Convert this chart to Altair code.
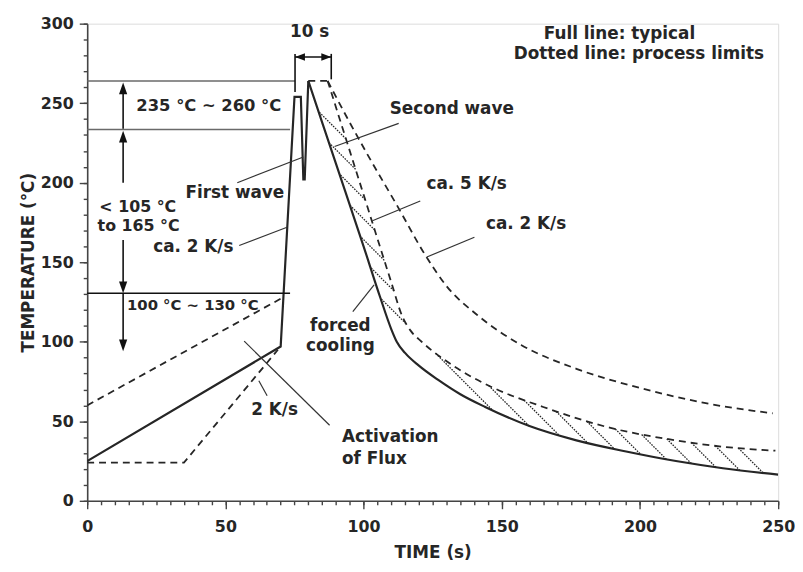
import altair as alt
import pandas as pd
import numpy as np

INK = "#262626"
GRAY = "#6a6a6a"
FONT = "DejaVu Sans"

# ---------------- data ----------------
# Typical profile (full line)
solid_heat_t = [0, 70, 75, 77.3, 78.2, 78.7, 80]
solid_heat_T = [25, 97, 254, 254, 202, 202, 264]
solid_cool_t = [80, 90, 100, 106, 110, 112, 115, 120, 127, 135, 144, 160, 177, 195, 213, 230, 250]
solid_cool_T = [264, 212, 160, 128, 108, 100, 93, 85, 76, 67, 59, 47, 38, 31, 25, 20.5, 16.5]

# Process limits (dotted lines)
pre_upper_t = [0, 71]
pre_upper_T = [60, 128]
pre_lower_t = [0, 35, 69]
pre_lower_T = [24, 24, 95]
peak_t = [80, 87]
peak_T = [264, 264]
cool_fast_t = [87, 100, 110, 114, 117, 121, 129, 138, 147, 165, 189, 213, 230, 249]
cool_fast_T = [264, 192.5, 137.5, 116, 107, 100, 89, 79, 71, 59, 46, 38, 34, 31.5]
cool_slow_t = [87, 94, 101, 112, 122.5, 130, 141, 157, 177, 201, 225, 248]
cool_slow_T = [264, 241, 219, 186, 154, 135, 117, 98, 83, 70.5, 61, 55]

# Reference levels
ref_x = [0, 0, 0]
ref_x2 = [75.2, 73.4, 73.4]
ref_T = [264, 233.5, 130.5]
ref_kind = ["gray", "gray", "black"]

# Axis ticks
x_major = [0, 50, 100, 150, 200, 250]
x_minor = list(range(0, 251, 5))
y_major = [0, 50, 100, 150, 200, 250, 300]
y_minor = list(range(0, 301, 10))

# Annotation texts
label_text = ["10 s", "Full line: typical", "Dotted line: process limits",
              "235 °C ~ 260 °C", "Second wave", "First wave", "< 105 °C", "to 165 °C",
              "ca. 2 K/s", "100 °C ~ 130 °C", "ca. 5 K/s", "ca. 2 K/s",
              "forced", "cooling", "2 K/s"]
label_x = [80.5, 192.6, 199.6, 44.0, 131.9, 53.4, 18.3, 18.6, 38.4, 38.2, 137.3, 158.8,
           91.6, 91.6, 67.8]
label_y = [295, 293.7, 280.8, 248, 246.1, 193.2, 185, 173, 159.5, 122.9, 199, 174.2,
           109.7, 97.3, 56.8]
label_size = [17, 17, 17, 16.5, 17, 17, 16, 16, 17, 15, 17, 17, 17, 17, 17]
left_text = ["Activation", "of Flux"]
left_x = [92.2, 92.2]
left_y = [40, 26]

# Leader lines
lead_x = [54.3, 55.0, 112.7, 120.5, 140.1, 96.1, 65.1, 87.7]
lead_y = [200, 160.5, 237.3, 188.5, 165.7, 119, 66.1, 47.5]
lead_x2 = [78.2, 72.3, 89.5, 103.2, 122.9, 103.8, 62.1, 56.8]
lead_y2 = [216.2, 172, 222.8, 176.1, 153.3, 135.7, 75.5, 100.4]

# Dimension arrows (shafts) and heads
shaft_x = [13, 13, 13, 13, 75.2, 88.3, 75.2]
shaft_y = [234, 200, 164, 130.5, 257, 265, 279]
shaft_x2 = [13, 13, 13, 13, 75.2, 88.3, 88.3]
shaft_y2 = [257, 228, 135, 99, 281, 281, 279]
head_x = [13, 13, 13, 13, 77.0, 86.5]
head_y = [259.3, 229.0, 134.2, 97.7, 279, 279]
head_dir = ["up", "up", "down", "down", "left", "right"]
head_size = [140, 140, 140, 140, 100, 100]

# ---------------- chart ----------------
W, H = 698, 482
xs = alt.Scale(domain=[0, 250], nice=False, zero=False)
ys = alt.Scale(domain=[0, 300], nice=False, zero=False)

lab = dict(labelFont=FONT, labelFontWeight="bold", labelFontSize=16, labelColor=INK,
           titleFont=FONT, titleFontWeight="bold", titleFontSize=17, titleColor=INK,
           domainColor="#444", domainWidth=1.6, tickColor="#444", tickWidth=1.4,
           grid=False, labelOverlap=False, labelFlush=False)

x_major_axis = alt.Axis(orient="bottom", title="TIME (s)", values=x_major, tickSize=8,
                        labelPadding=10, titlePadding=10, **lab)
y_major_axis = alt.Axis(orient="left", title="TEMPERATURE (°C)", values=y_major, tickSize=8,
                        labelPadding=6, titlePadding=3, **lab)
x_minor_axis = alt.Axis(orient="bottom", title=None, values=x_minor, tickSize=4, labels=False,
                        domain=False, grid=False, tickColor="#444", tickWidth=1.4)
y_minor_axis = alt.Axis(orient="left", title=None, values=y_minor, tickSize=4, labels=False,
                        domain=False, grid=False, tickColor="#444", tickWidth=1.4)


def line(t, T, dash=None, width=2.2, interp="linear", xa=None, ya=None):
    df = pd.DataFrame({"t": t, "T": T, "o": range(len(t))})
    kw = dict(color=INK, strokeWidth=width, interpolate=interp, clip=True)
    if dash:
        kw["strokeDash"] = dash
    return alt.Chart(df).mark_line(**kw).encode(
        x=alt.X("t:Q", scale=xs, axis=xa),
        y=alt.Y("T:Q", scale=ys, axis=ya),
        order="o:Q",
    )


DASH = [7, 5]
layers = [
    line(solid_heat_t, solid_heat_T, xa=x_major_axis, ya=y_major_axis),
    line(solid_cool_t, solid_cool_T, interp="monotone", xa=x_minor_axis, ya=y_minor_axis),
    line(pre_upper_t, pre_upper_T, dash=DASH, width=1.8),
    line(pre_lower_t, pre_lower_T, dash=DASH, width=1.8),
    line(peak_t, peak_T, dash=DASH, width=1.8),
    line(cool_fast_t, cool_fast_T, dash=DASH, width=1.8, interp="monotone"),
    line(cool_slow_t, cool_slow_T, dash=DASH, width=1.8, interp="monotone"),
]

# ---- hatching between the typical curve and the fast-cooling limit (45° strokes) ----
KX, KY = W / 250, H / 300


def monotone_dense(t, T, step=0.05):
    """Evaluate the same monotone (Steffen) cubic that Vega draws."""
    x = np.asarray(t, float); y = np.asarray(T, float)
    h = np.diff(x); s = np.diff(y) / h
    n = len(x)
    m = np.zeros(n)
    for i in range(1, n - 1):
        p = (s[i - 1] * h[i] + s[i] * h[i - 1]) / (h[i - 1] + h[i])
        m[i] = (np.sign(s[i - 1]) + np.sign(s[i])) * min(abs(s[i - 1]), abs(s[i]), 0.5 * abs(p))
    m[0] = (3 * s[0] - m[1]) / 2
    m[-1] = (3 * s[-1] - m[-2]) / 2
    xx = np.arange(x[0], x[-1], step)
    idx = np.clip(np.searchsorted(x, xx, side="right") - 1, 0, n - 2)
    tt = (xx - x[idx]) / h[idx]
    h00 = 2 * tt**3 - 3 * tt**2 + 1; h10 = tt**3 - 2 * tt**2 + tt
    h01 = -2 * tt**3 + 3 * tt**2; h11 = tt**3 - tt**2
    yy = h00 * y[idx] + h10 * h[idx] * m[idx] + h01 * y[idx + 1] + h11 * h[idx] * m[idx + 1]
    return xx, yy


def branches(t, T):
    xx, yy = monotone_dense(t, T)
    u, v = xx * KX, yy * KY
    k = int(np.argmin(u + v))
    return (u[:k + 1], v[:k + 1]), (u[k:], v[k:])


def cross(branch, c):
    u, v = branch
    s = u + v - c
    for i in range(len(s) - 1):
        if s[i] == 0 or s[i] * s[i + 1] < 0:
            f = s[i] / (s[i] - s[i + 1]) if s[i] != s[i + 1] else 0
            return u[i] + f * (u[i + 1] - u[i]), v[i] + f * (v[i + 1] - v[i])
    return None


sol_b = branches(solid_cool_t, solid_cool_T)
fast_b = branches(cool_fast_t, cool_fast_T)
hx, hy, hx2, hy2 = [], [], [], []
for c in np.arange(480, 760, 21):
    for b in (0, 1):
        p = cross(fast_b[b], c)
        q = cross(sol_b[b], c)
        if p is None or q is None:
            continue
        hx.append(p[0] / KX); hy.append(p[1] / KY); hx2.append(q[0] / KX); hy2.append(q[1] / KY)

hatch = pd.DataFrame({"x": hx, "y": hy, "x2": hx2, "y2": hy2})
layers.append(alt.Chart(hatch).mark_rule(color=INK, strokeWidth=1.3, strokeDash=[1.6, 1.2]).encode(
    x=alt.X("x:Q", scale=xs, axis=None), y=alt.Y("y:Q", scale=ys, axis=None), x2="x2:Q", y2="y2:Q"))

# reference lines
refs = pd.DataFrame({"x": ref_x, "x2": ref_x2, "y": ref_T, "k": ref_kind})
layers.append(alt.Chart(refs).mark_rule(strokeWidth=1.6).encode(
    x=alt.X("x:Q", scale=xs, axis=None), x2="x2:Q", y=alt.Y("y:Q", scale=ys, axis=None),
    color=alt.Color("k:N", scale=alt.Scale(domain=["gray", "black"], range=[GRAY, "#111"]), legend=None)))

# leader lines
leads = pd.DataFrame({"x": lead_x, "y": lead_y, "x2": lead_x2, "y2": lead_y2})
layers.append(alt.Chart(leads).mark_rule(color="#333", strokeWidth=1.2).encode(
    x=alt.X("x:Q", scale=xs, axis=None), y=alt.Y("y:Q", scale=ys, axis=None), x2="x2:Q", y2="y2:Q"))

# dimension arrows
shafts = pd.DataFrame({"x": shaft_x, "y": shaft_y, "x2": shaft_x2, "y2": shaft_y2})
layers.append(alt.Chart(shafts).mark_rule(color="#111", strokeWidth=1.6).encode(
    x=alt.X("x:Q", scale=xs, axis=None), y=alt.Y("y:Q", scale=ys, axis=None), x2="x2:Q", y2="y2:Q"))
heads = pd.DataFrame({"x": head_x, "y": head_y, "d": head_dir, "s": head_size})
layers.append(alt.Chart(heads).mark_point(filled=True, color="#111", opacity=1, strokeWidth=0).encode(
    x=alt.X("x:Q", scale=xs, axis=None), y=alt.Y("y:Q", scale=ys, axis=None),
    shape=alt.Shape("d:N", scale=alt.Scale(
        domain=["up", "down", "left", "right"],
        range=["M0,-1L0.7,1L-0.7,1Z", "M0,1L0.7,-1L-0.7,-1Z",
               "M-1,0L1,-0.75L1,0.75Z", "M1,0L-1,-0.75L-1,0.75Z"]), legend=None),
    size=alt.Size("s:Q", scale=None)))

# texts
txt = pd.DataFrame({"x": label_x, "y": label_y, "t": label_text, "fs": label_size})
layers.append(alt.Chart(txt).mark_text(font=FONT, fontWeight="bold", color=INK,
                                       align="center", baseline="middle").encode(
    x=alt.X("x:Q", scale=xs, axis=None), y=alt.Y("y:Q", scale=ys, axis=None), text="t:N",
    size=alt.Size("fs:Q", scale=None)))
txt2 = pd.DataFrame({"x": left_x, "y": left_y, "t": left_text})
layers.append(alt.Chart(txt2).mark_text(font=FONT, fontWeight="bold", fontSize=17, color=INK,
                                        align="left", baseline="middle").encode(
    x=alt.X("x:Q", scale=xs, axis=None), y=alt.Y("y:Q", scale=ys, axis=None), text="t:N"))

chart = alt.layer(*layers).resolve_axis(x="independent", y="independent").properties(
    width=W, height=H,
    autosize=alt.AutoSizeParams(type="none"),
    padding={"left": 80, "top": 13, "right": 17, "bottom": 60},
).configure_view(strokeWidth=0).configure(background="white")

chart.save("out.html", embed_options={"renderer": "svg", "actions": False})
